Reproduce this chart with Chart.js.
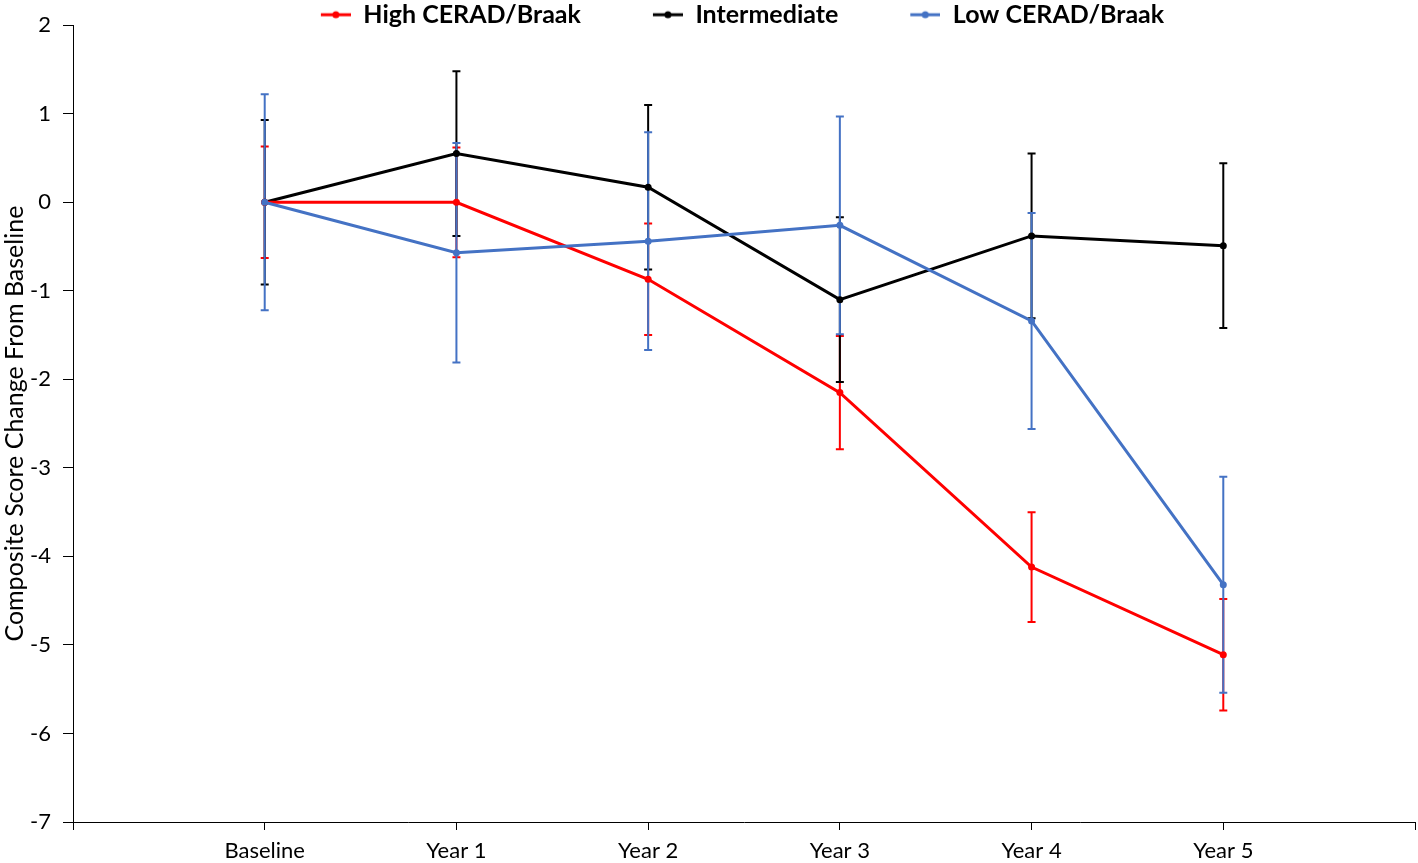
<!DOCTYPE html>
<html>
<head>
<meta charset="utf-8">
<script src="https://cdn.jsdelivr.net/npm/chart.js@4/dist/chart.umd.min.js"></script>
<style>
  html, body { margin: 0; padding: 0; background: #fff; }
  #wrap { width: 1418px; height: 863px; }
</style>
</head>
<body>
<div id="wrap"><canvas id="chart"></canvas></div>
<script>
const categories = ['Baseline', 'Year 1', 'Year 2', 'Year 3', 'Year 4', 'Year 5'];
const seriesNames = ['High CERAD/Braak', 'Intermediate', 'Low CERAD/Braak'];
const highMean = [0, 0, -0.87, -2.15, -4.12, -5.11];
const highErr = [0.63, 0.62, 0.63, 0.64, 0.62, 0.63];
const interMean = [0, 0.55, 0.17, -1.10, -0.38, -0.49];
const interErr = [0.93, 0.93, 0.93, 0.93, 0.93, 0.93];
const lowMean = [0, -0.57, -0.44, -0.26, -1.34, -4.32];
const lowErr = [1.22, 1.24, 1.23, 1.23, 1.22, 1.22];
const yTicks = [-7, -6, -5, -4, -3, -2, -1, 0, 1, 2];

const RED = '#FF0000';
const BLACK = '#000000';
const BLUE = '#4472C4';
const FONT = 'Lato, "Open Sans", sans-serif';

// legend symbol: short line with a dot, placed at the right of a wider box
const SYM_W = 100;
function legendSymbol(color) {
    const c = document.createElement('canvas');
    c.width = SYM_W;
    c.height = 10;
    const g = c.getContext('2d');
    g.strokeStyle = color;
    g.lineWidth = 3;
    g.beginPath();
    g.moveTo(SYM_W - 30, 5);
    g.lineTo(SYM_W, 5);
    g.stroke();
    g.fillStyle = color;
    g.beginPath();
    g.arc(SYM_W - 15, 5, 3.5, 0, Math.PI * 2);
    g.fill();
    return c;
}

function toPoints(arr) {
    return arr.map((v, i) => ({ x: i, y: v }));
}

const errorSets = [
    { mean: highMean, err: highErr, color: RED },
    { mean: interMean, err: interErr, color: BLACK },
    { mean: lowMean, err: lowErr, color: BLUE }
];

// error bars drawn under the lines
const errorBars = {
    id: 'errorBars',
    afterLayout(chart) {
        // let the legend text hang a little below its box (descenders)
        if (chart.legend) {
            chart.legend.bottom += 8;
            chart.legend.height += 8;
        }
    },
    beforeDatasetsDraw(chart) {
        const ctx = chart.ctx;
        const xs = chart.scales.x;
        const ys = chart.scales.y;
        ctx.save();
        errorSets.forEach(set => {
            ctx.strokeStyle = set.color;
            ctx.lineWidth = 2;
            set.mean.forEach((m, i) => {
                const x = xs.getPixelForValue(i);
                const top = ys.getPixelForValue(m + set.err[i]);
                const bot = ys.getPixelForValue(m - set.err[i]);
                ctx.beginPath();
                ctx.moveTo(x, top);
                ctx.lineTo(x, bot);
                ctx.moveTo(x - 4, top);
                ctx.lineTo(x + 4, top);
                ctx.moveTo(x - 4, bot);
                ctx.lineTo(x + 4, bot);
                ctx.stroke();
            });
        });
        ctx.restore();
    }
};

function lineSet(label, data, color, order) {
    return {
        label: label,
        data: toPoints(data),
        borderColor: color,
        backgroundColor: color,
        borderWidth: 3,
        pointStyle: 'circle',
        pointRadius: 3.5,
        pointHoverRadius: 3.5,
        pointBorderWidth: 0,
        order: order,
        tension: 0
    };
}

const ctx = document.getElementById('chart').getContext('2d');
new Chart(ctx, {
    type: 'line',
    data: {
        datasets: [
            lineSet(seriesNames[0], highMean, RED, 1),
            lineSet(seriesNames[1], interMean, BLACK, 2),
            lineSet(seriesNames[2], lowMean, BLUE, 0)
        ]
    },
    options: {
        responsive: true,
        maintainAspectRatio: false,
        animation: false,
        layout: { autoPadding: false, padding: { top: 0, right: 3, left: 0, bottom: 0 } },
        plugins: {
            tooltip: { enabled: false },
            legend: {
                position: 'top',
                maxHeight: 25,
                labels: {
                    usePointStyle: true,
                    pointStyleWidth: SYM_W,
                    padding: 2,
                    color: '#000',
                    font: { family: FONT, size: 25, weight: 'bold' },
                    sort: (a, b) => a.datasetIndex - b.datasetIndex,
                    generateLabels(chart) {
                        return chart.data.datasets.map((ds, i) => ({
                            text: ds.label,
                            fillStyle: ds.borderColor,
                            strokeStyle: ds.borderColor,
                            lineWidth: 0,
                            pointStyle: legendSymbol(ds.borderColor),
                            datasetIndex: i,
                            hidden: false,
                            fontColor: '#000'
                        }));
                    }
                }
            }
        },
        scales: {
            x: {
                type: 'linear',
                min: -1,
                max: 6,
                afterFit(s) {
                    s.height = 41;
                    s.paddingLeft = 0;
                    s.paddingRight = 0;
                },
                afterBuildTicks(s) {
                    s.ticks = [-1, 0, 1, 2, 3, 4, 5, 6].map(v => ({ value: v }));
                },
                ticks: {
                    autoSkip: false,
                    maxRotation: 0,
                    padding: 8,
                    color: '#000',
                    font: { family: FONT, size: 22 },
                    callback: v => categories[v] !== undefined ? categories[v] : ''
                },
                grid: { drawOnChartArea: false, drawTicks: true, tickLength: 8, color: '#000' },
                border: { color: '#000', width: 1 }
            },
            y: {
                min: -7,
                max: 2,
                afterFit(s) { s.width = 73; },
                afterBuildTicks(s) {
                    s.ticks = yTicks.map(v => ({ value: v }));
                },
                ticks: {
                    padding: 12,
                    color: '#000',
                    font: { family: FONT, size: 22 }
                },
                grid: { drawOnChartArea: false, drawTicks: true, tickLength: 10, color: '#000' },
                border: { color: '#000', width: 1 },
                title: {
                    display: true,
                    text: 'Composite Score Change From Baseline',
                    color: '#000',
                    font: { family: FONT, size: 25 },
                    padding: { top: 0, bottom: 0 }
                }
            }
        }
    },
    plugins: [errorBars]
});
</script>
</body>
</html>
